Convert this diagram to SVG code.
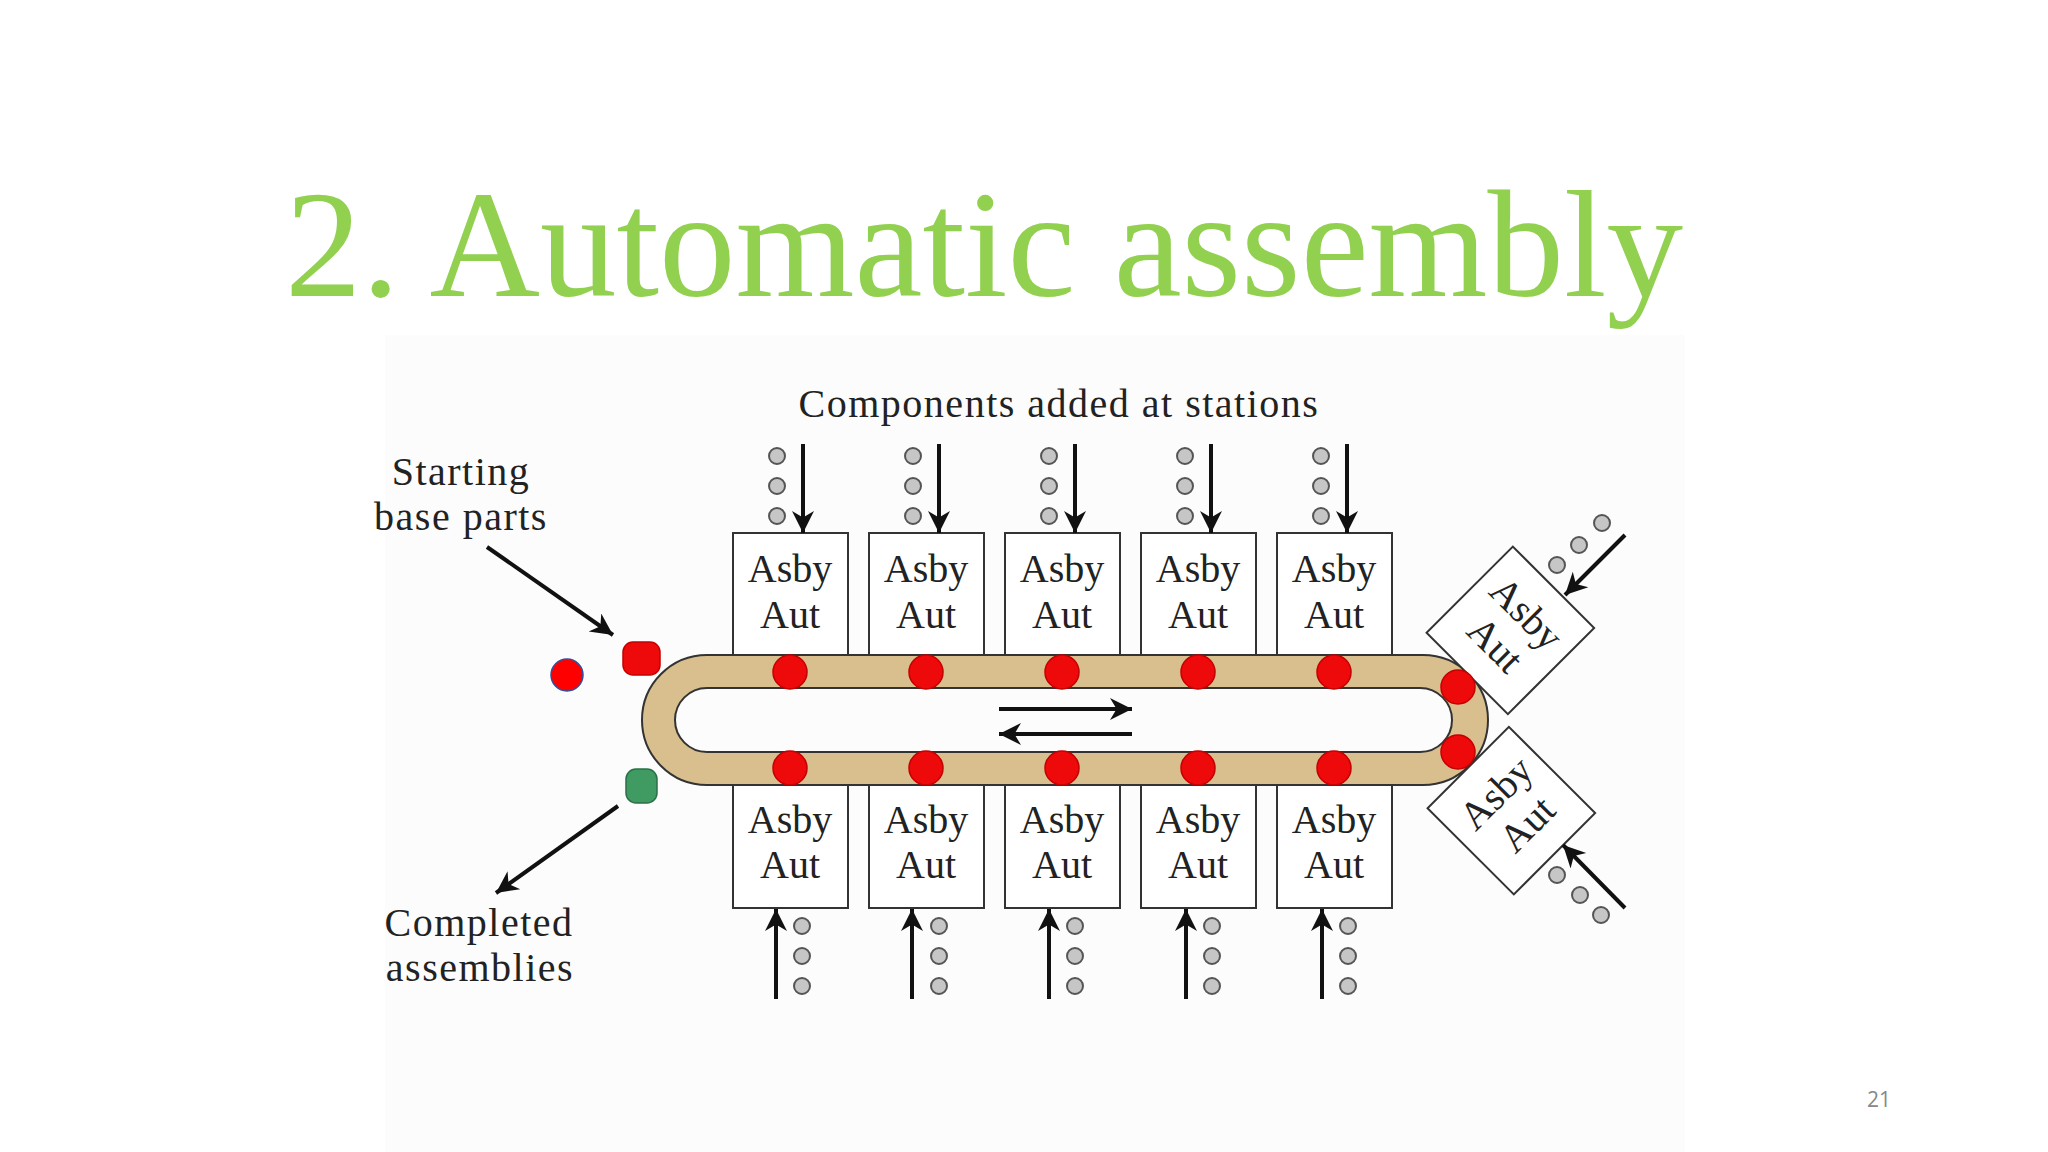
<svg xmlns="http://www.w3.org/2000/svg" width="2048" height="1152" viewBox="0 0 2048 1152">
  <style>
    .title { font-family: "Liberation Serif", "Times New Roman", serif; font-size: 153px; fill: #92D050; }
    .lbl { font-family: "Liberation Serif", "Times New Roman", serif; font-size: 40px; fill: #222; letter-spacing: 1.5px; text-anchor: middle; }
    .bt { font-family: "Liberation Serif", "Times New Roman", serif; font-size: 40px; fill: #222; text-anchor: middle; }
    .box { fill: #fff; stroke: #333; stroke-width: 2; }
    .part { fill: #c6c6c6; stroke: #555; stroke-width: 2; }
    .dot { fill: #ee0a0a; stroke: #c40000; stroke-width: 1.5; }
    .arr { stroke: #111; stroke-width: 4; fill: none; marker-end: url(#ah); }
    .pg { font-family: "Open Sans", "Liberation Sans", sans-serif; font-size: 21px; fill: #888; }
  </style>
  <defs>
    <marker id="ah" viewBox="0 0 10 10" refX="10" refY="5" markerWidth="30" markerHeight="22" markerUnits="userSpaceOnUse" orient="auto">
      <path d="M0,0 L10,5 L0,10 L3,5 Z" fill="#111"/>
    </marker>
    <g id="parts3">
      <circle class="part" cx="0" cy="0" r="8"/>
      <circle class="part" cx="0" cy="30" r="8"/>
      <circle class="part" cx="0" cy="60" r="8"/>
    </g>
  </defs>

  <rect x="0" y="0" width="2048" height="1152" fill="#fff"/>
  <rect x="385" y="335" width="1300" height="817" fill="#fcfcfc"/>

  <text class="title" x="285" y="296">2. Automatic assembly</text>

  <g id="label-components"><text class="lbl" x="1059" y="417">Components added at stations</text></g>
  <g id="label-starting">
    <text class="lbl" x="461" y="485">Starting</text>
    <text class="lbl" x="461" y="530">base parts</text>
  </g>
  <g id="label-completed">
    <text class="lbl" x="479" y="936">Completed</text>
    <text class="lbl" x="480" y="981">assemblies</text>
  </g>

  <g id="track">
    <path d="M707,655 H1423 A65,65 0 0 1 1423,785 H707 A65,65 0 0 1 707,655 Z M707,688 A32,32 0 0 0 707,752 H1420 A32,32 0 0 0 1420,688 Z" fill="#d8bf8d" fill-rule="evenodd" stroke="#333" stroke-width="2"/>
  </g>

  <g id="stations-top">
    <g id="st-t1"><rect class="box" x="733" y="533" width="115" height="122"/><text class="bt" x="790" y="582">Asby</text><text class="bt" x="790" y="628">Aut</text></g>
    <g id="st-t2"><rect class="box" x="869" y="533" width="115" height="122"/><text class="bt" x="926" y="582">Asby</text><text class="bt" x="926" y="628">Aut</text></g>
    <g id="st-t3"><rect class="box" x="1005" y="533" width="115" height="122"/><text class="bt" x="1062" y="582">Asby</text><text class="bt" x="1062" y="628">Aut</text></g>
    <g id="st-t4"><rect class="box" x="1141" y="533" width="115" height="122"/><text class="bt" x="1198" y="582">Asby</text><text class="bt" x="1198" y="628">Aut</text></g>
    <g id="st-t5"><rect class="box" x="1277" y="533" width="115" height="122"/><text class="bt" x="1334" y="582">Asby</text><text class="bt" x="1334" y="628">Aut</text></g>
  </g>
  <g id="stations-bottom">
    <g id="st-b1"><rect class="box" x="733" y="785" width="115" height="123"/><text class="bt" x="790" y="833">Asby</text><text class="bt" x="790" y="878">Aut</text></g>
    <g id="st-b2"><rect class="box" x="869" y="785" width="115" height="123"/><text class="bt" x="926" y="833">Asby</text><text class="bt" x="926" y="878">Aut</text></g>
    <g id="st-b3"><rect class="box" x="1005" y="785" width="115" height="123"/><text class="bt" x="1062" y="833">Asby</text><text class="bt" x="1062" y="878">Aut</text></g>
    <g id="st-b4"><rect class="box" x="1141" y="785" width="115" height="123"/><text class="bt" x="1198" y="833">Asby</text><text class="bt" x="1198" y="878">Aut</text></g>
    <g id="st-b5"><rect class="box" x="1277" y="785" width="115" height="123"/><text class="bt" x="1334" y="833">Asby</text><text class="bt" x="1334" y="878">Aut</text></g>
  </g>
  <g id="st-diag-upper" transform="translate(1510,630) rotate(45)">
    <rect class="box" x="-57" y="-61" width="115" height="122"/>
    <text class="bt" x="0" y="-10">Asby</text><text class="bt" x="0" y="34">Aut</text>
  </g>
  <g id="st-diag-lower" transform="translate(1511,811) rotate(-45)">
    <rect class="box" x="-57" y="-61" width="115" height="122"/>
    <text class="bt" x="2" y="-10">Asby</text><text class="bt" x="2" y="34">Aut</text>
  </g>

  <g id="pallets">
    <circle class="dot" cx="790" cy="672" r="17"/><circle class="dot" cx="926" cy="672" r="17"/><circle class="dot" cx="1062" cy="672" r="17"/><circle class="dot" cx="1198" cy="672" r="17"/><circle class="dot" cx="1334" cy="672" r="17"/>
    <circle class="dot" cx="790" cy="768" r="17"/><circle class="dot" cx="926" cy="768" r="17"/><circle class="dot" cx="1062" cy="768" r="17"/><circle class="dot" cx="1198" cy="768" r="17"/><circle class="dot" cx="1334" cy="768" r="17"/>
    <circle class="dot" cx="1458" cy="687" r="17"/><circle class="dot" cx="1458" cy="752" r="17"/>
  </g>
  <g id="start-part"><rect x="623" y="642" width="37" height="33" rx="10" fill="#ee0a0a" stroke="#c40000" stroke-width="1.5"/></g>
  <g id="completed-part"><rect x="626" y="769" width="31" height="34" rx="10" fill="#3f9b62" stroke="#2a7047" stroke-width="1.5"/></g>
  <g id="blue-dot"><circle cx="567" cy="675" r="16" fill="#f00" stroke="#2f4f9f" stroke-width="1.5"/></g>

  <g id="parts">
    <use href="#parts3" x="777" y="456"/><use href="#parts3" x="913" y="456"/><use href="#parts3" x="1049" y="456"/><use href="#parts3" x="1185" y="456"/><use href="#parts3" x="1321" y="456"/>
    <use href="#parts3" x="802" y="926"/><use href="#parts3" x="939" y="926"/><use href="#parts3" x="1075" y="926"/><use href="#parts3" x="1212" y="926"/><use href="#parts3" x="1348" y="926"/>
    <circle class="part" cx="1557" cy="565" r="8"/><circle class="part" cx="1579" cy="545" r="8"/><circle class="part" cx="1602" cy="523" r="8"/>
    <circle class="part" cx="1557" cy="875" r="8"/><circle class="part" cx="1580" cy="895" r="8"/><circle class="part" cx="1601" cy="915" r="8"/>
  </g>

  <g id="connectors">
    <line class="arr" x1="803" y1="444" x2="803" y2="533"/>
    <line class="arr" x1="939" y1="444" x2="939" y2="533"/>
    <line class="arr" x1="1075" y1="444" x2="1075" y2="533"/>
    <line class="arr" x1="1211" y1="444" x2="1211" y2="533"/>
    <line class="arr" x1="1347" y1="444" x2="1347" y2="533"/>
    <line class="arr" x1="776" y1="999" x2="776" y2="909"/>
    <line class="arr" x1="912" y1="999" x2="912" y2="909"/>
    <line class="arr" x1="1049" y1="999" x2="1049" y2="909"/>
    <line class="arr" x1="1186" y1="999" x2="1186" y2="909"/>
    <line class="arr" x1="1322" y1="999" x2="1322" y2="909"/>
    <line class="arr" x1="1625" y1="535" x2="1565" y2="595"/>
    <line class="arr" x1="1625" y1="908" x2="1563" y2="845"/>
    <line class="arr" x1="999" y1="709" x2="1132" y2="709"/>
    <line class="arr" x1="1132" y1="734" x2="999" y2="734"/>
    <line class="arr" x1="487" y1="547" x2="613" y2="635"/>
    <line class="arr" x1="618" y1="806" x2="496" y2="893"/>
  </g>

  <text class="pg" x="1867" y="1107">21</text>
</svg>
